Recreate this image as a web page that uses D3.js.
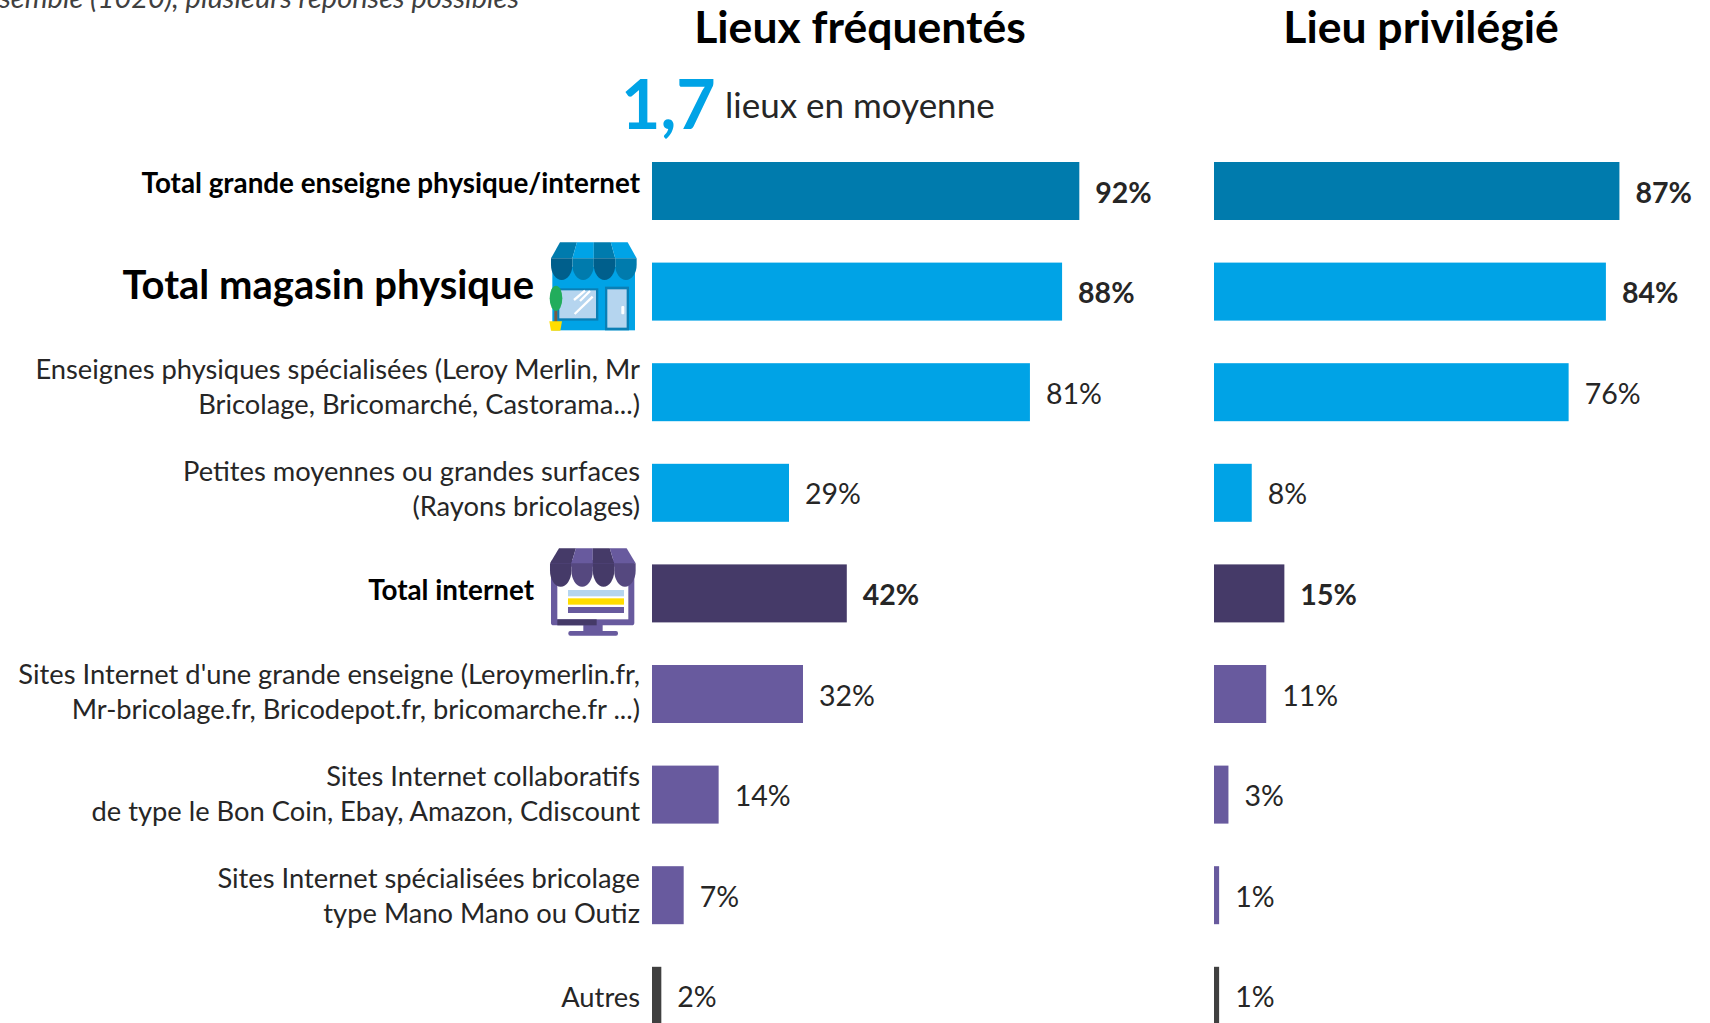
<!DOCTYPE html>
<html>
<head>
<meta charset="utf-8">
<script src="https://cdn.jsdelivr.net/npm/d3@7"></script>
<style>
html, body { margin: 0; padding: 0; background: #fff; overflow: hidden; }
text { font-family: Lato, "Open Sans", sans-serif; }
</style>
</head>
<body>
<div id="chart"></div>
<script>
const categories = [
  'Total grande enseigne physique/internet',
  'Total magasin physique',
  'Enseignes physiques spécialisées (Leroy Merlin, Mr\nBricolage, Bricomarché, Castorama...)',
  'Petites moyennes ou grandes surfaces\n(Rayons bricolages)',
  'Total internet',
  "Sites Internet d'une grande enseigne (Leroymerlin.fr,\nMr-bricolage.fr, Bricodepot.fr, bricomarche.fr ...)",
  'Sites Internet collaboratifs\nde type le Bon Coin, Ebay, Amazon, Cdiscount',
  'Sites Internet spécialisées bricolage\ntype Mano Mano ou Outiz',
  'Autres'
]
// the printed labels are these rounded
const frequentes = [91.7, 88, 81.1, 29.4, 41.8, 32.4, 14.3, 6.8, 2]
const privilegie = [87, 84.1, 76.1, 8.1, 15.1, 11.2, 3.1, 1.1, 1.1]
const barColors = ['#007bad', '#00a3e6', '#00a3e6', '#00a3e6', '#453a68', '#685a9e', '#685a9e', '#685a9e', '#404040']
const boldRows = [0, 1, 4]
const titles = ['Lieux fréquentés', 'Lieu privilégié']

const width = 1710, height = 1023

const svg = d3.select('#chart').append('svg')
  .attr('width', width)
  .attr('height', height)

const ids = categories.map((d, i) => i)

const y = d3.scaleBand()
  .domain(ids)
  .range([162, 162 + 100.6 * 9 - 42.6])
  .paddingInner(42.6 / 100.6)
  .paddingOuter(0)

// the labels do not sit quite on the bars in the original, they have their own step
const yLabel = d3.scalePoint()
  .domain(ids)
  .range([184, 184 + 101.7 * 8])

const x = d3.scaleLinear().domain([0, 100]).range([0, 466])

function put(sel, px, py) {
  return sel.attr('x', px).attr('y', py)
}

// titles
const titleX = [860, 1421]
titles.forEach((t, i) => {
  put(svg.append('text'), titleX[i], 43)
    .attr('text-anchor', 'middle')
    .attr('font-size', 44.5)
    .attr('font-weight', 700)
    .attr('fill', '#000')
    .text(t)
})

put(svg.append('text'), 519, 8)
  .attr('text-anchor', 'end')
  .attr('font-size', 29)
  .attr('font-style', 'italic')
  .attr('fill', '#404040')
  .text('Ensemble (1020), plusieurs réponses possibles')

put(svg.append('text'), 621, 129)
  .attr('font-size', 68)
  .attr('font-weight', 700)
  .attr('fill', '#00a3e6')
  .text('1,7')

put(svg.append('text'), 725, 118)
  .attr('font-size', 35)
  .attr('fill', '#262626')
  .text('lieux en moyenne')

// bars and values
function panel(values, x0) {
  const g = svg.append('g').attr('transform', `translate(${x0},0)`)

  g.selectAll('rect')
    .data(values)
    .join('rect')
    .attr('x', 0)
    .attr('y', (d, i) => y(i))
    .attr('width', d => x(d))
    .attr('height', y.bandwidth())
    .attr('fill', (d, i) => barColors[i])

  g.selectAll('text')
    .data(values)
    .join('text')
    .attr('x', d => x(d) + 16)
    .attr('y', (d, i) => y(i) + y.bandwidth() / 2 + 11.5)
    .attr('font-size', 28.5)
    .attr('font-weight', (d, i) => boldRows.includes(i) ? 700 : 400)
    .attr('fill', '#262626')
    .text(d => d3.format('.0f')(d) + '%')
}
panel(frequentes, 652)
panel(privilegie, 1214)

// row labels
const labelG = svg.append('g')
categories.forEach((c, i) => {
  const lines = c.split('\n')
  const hasIcon = i === 1 || i === 4
  const right = hasIcon ? 534 : 640
  const size = i === 1 ? 40 : (boldRows.includes(i) ? 27.8 : 27.3)
  lines.forEach((line, j) => {
    put(labelG.append('text'), right, yLabel(i) + (j - (lines.length - 1) / 2) * 34.7 + size * 0.34)
      .attr('text-anchor', 'end')
      .attr('font-size', size)
      .attr('font-weight', boldRows.includes(i) ? 700 : 400)
      .attr('fill', boldRows.includes(i) ? '#000' : '#262626')
      .text(line)
  })
})

// awning shared by both icons, drawn at 3x like the crops
function awning(g, x0, x1, inset, top, mid, r, cols) {
  const w = (x1 - x0) / 4, tw = (x1 - x0 - inset * 2) / 4
  d3.range(4).forEach(k => {
    g.append('path')
      .attr('d', `M${x0 + inset + tw * k},${top}L${x0 + inset + tw * (k + 1)},${top}L${x0 + w * (k + 1)},${mid}L${x0 + w * k},${mid}Z`)
      .attr('fill', cols[k % 2])
    g.append('path')
      .attr('d', `M${x0 + w * k},${mid}h${w}v${r * 0.3}a${w / 2},${r * 0.7} 0 0 1 ${-w},0Z`)
      .attr('fill', cols[2 + k % 2])
  })
}

function box(g, x0, y0, x1, y1, fill, rx) {
  g.append('rect')
    .attr('x', x0).attr('y', y0)
    .attr('width', x1 - x0).attr('height', y1 - y0)
    .attr('rx', rx || 0)
    .attr('fill', fill)
}

const shop = svg.append('g').attr('transform', 'translate(500,220) scale(0.3333)')
box(shop, 157, 140, 405, 331, '#00a3e6')
box(shop, 172, 205, 295, 302, '#0a7fb5')
box(shop, 178, 211, 288, 295, '#b5d5ef')
box(shop, 315, 200, 387, 331, '#0a7fb5')
box(shop, 322, 208, 380, 323, '#b5d5ef')
box(shop, 364, 258, 373, 283, '#fff', 3)
;[[222, 240, 255, 212], [224, 282, 278, 230], [240, 243, 270, 213]].forEach(l => {
  shop.append('line')
    .attr('x1', l[0]).attr('y1', l[1]).attr('x2', l[2]).attr('y2', l[3])
    .attr('stroke', '#fff').attr('stroke-width', 7)
})
awning(shop, 153, 410, 27, 67, 115, 65, ['#007bad', '#00a3e6', '#005f8c', '#007bad'])
box(shop, 163, 270, 172, 306, '#7a5c40')
shop.append('ellipse').attr('cx', 168).attr('cy', 235).attr('rx', 19).attr('ry', 38).attr('fill', '#22ad5c')
shop.append('path').attr('d', 'M148,304H186L181,332H153Z').attr('fill', '#ffdd00')

const screenIcon = svg.append('g').attr('transform', 'translate(500,530) scale(0.3333)')
box(screenIcon, 205, 303, 354, 317, '#685a9e', 6)
box(screenIcon, 250, 280, 308, 306, '#685a9e')
box(screenIcon, 153, 90, 403, 286, '#685a9e', 8)
box(screenIcon, 172, 110, 385, 268, '#fff')
box(screenIcon, 172, 268, 290, 286, '#453a68')
box(screenIcon, 204, 180, 372, 199, '#b5d5ef')
box(screenIcon, 204, 205, 372, 224, '#ffdd00')
box(screenIcon, 204, 231, 372, 249, '#685a9e')
awning(screenIcon, 150, 407, 27, 55, 100, 70, ['#453a68', '#685a9e', '#453a68', '#55487f'])
</script>
</body>
</html>
